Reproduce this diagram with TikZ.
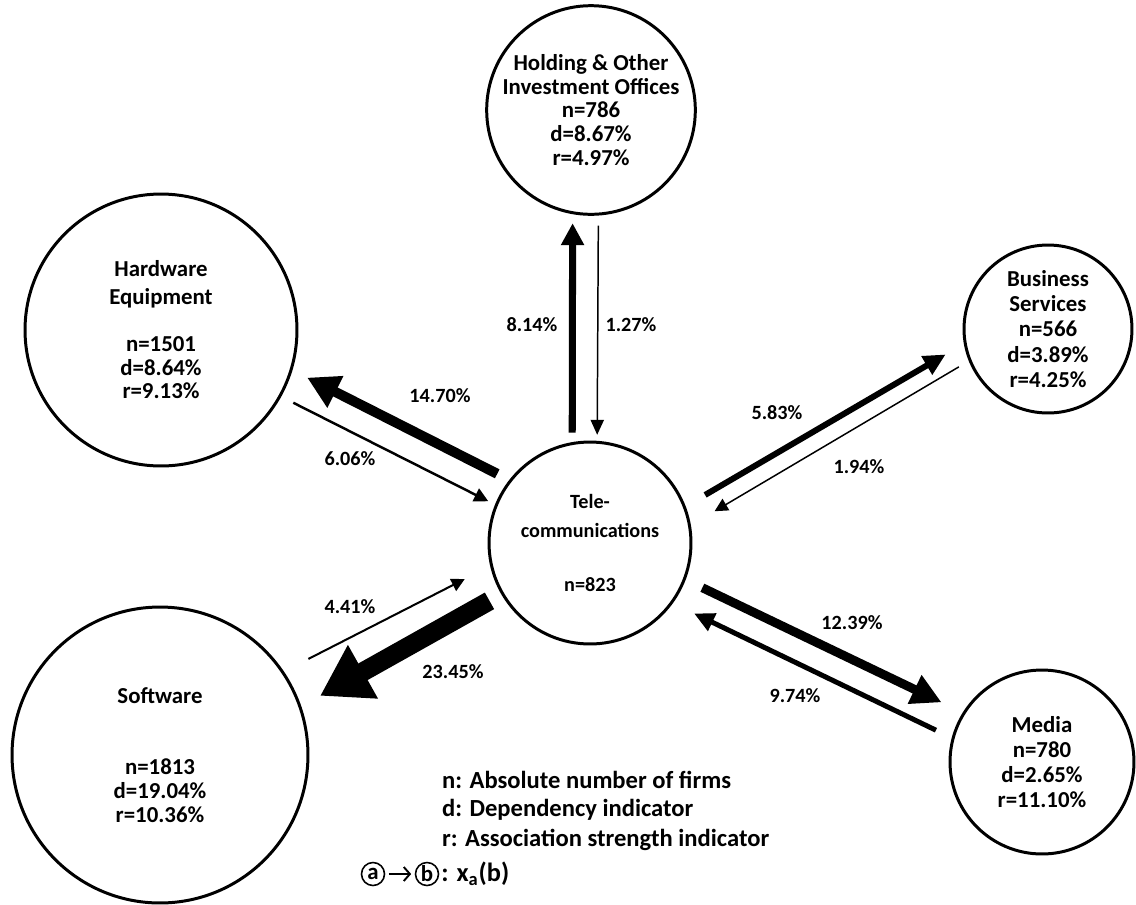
\documentclass[tikz,border=0pt]{standalone}
\usepackage{fontspec}
\setmainfont{Carlito}
\usetikzlibrary{arrows.meta}

\tikzset{
  sector/.style={draw, circle, line width=1.7pt, minimum size=#1, inner sep=0pt,
    align=center, font=\fontsize{13}{13.5}\selectfont\bfseries},
  flow/.style n args={3}{line width=#1, -{Triangle[length=#2, width=#3]}},
  share/.style={font=\fontsize{11.5}{13.5}\selectfont\bfseries},
  keyline/.style={anchor=west, font=\fontsize{14}{16}\selectfont\bfseries},
  keyball/.style={draw, circle, line width=0.9pt, minimum size=0.46cm, inner sep=0pt,
    font=\fontsize{13}{14}\selectfont\bfseries},
}

\begin{document}
\begin{tikzpicture}[x=0.02cm, y=-0.02cm]
\useasboundingbox (0,0) rectangle (1136,904);

% sectors
\node[sector=4.04cm, font=\fontsize{11.5}{13.5}\selectfont\bfseries] (tele) at (590,543)
  {Tele-\\[3pt]communications\\[17pt]n=823};
\node[sector=4.04cm] (hold) at (591,110) {Holding \& Other\\Investment Offices\\n=786\\d=8.67\%\\r=4.97\%};
\node[sector=5.44cm] (hw)   at (161,330) {Hardware\\[2pt]Equipment\\[13.5pt]n=1501\\d=8.64\%\\r=9.13\%};
\node[sector=5.92cm] (sw)   at (160,755) {Software\\[27pt]n=1813\\d=19.04\%\\r=10.36\%};
\node[sector=3.36cm, font=\fontsize{13}{14.3}\selectfont\bfseries] (bus) at (1048,329)
  {Business\\Services\\n=566\\d=3.89\%\\r=4.25\%};
\node[sector=3.68cm, font=\fontsize{13}{14.2}\selectfont\bfseries] (med) at (1042,762)
  {Media\\n=780\\d=2.65\%\\r=11.10\%};

% flows
\draw[flow={5.7pt}{18pt}{19pt}, shorten <=0.27cm, shorten >=0.33cm] (tele.142) -- (hw.-17);
\draw[flow={1.4pt}{8pt}{8pt}, shorten <=0.27cm, shorten >=0.15cm] (hw.-29) -- (tele.158);
\draw[flow={1.15pt}{7.5pt}{7.5pt}, shorten <=0.55cm, shorten >=0.57cm] (sw.34) -- (tele.193);
\draw[flow={10.8pt}{28pt}{33pt}, shorten <=0.27cm, shorten >=0.43cm] (tele.210) -- (sw.19);
\draw[flow={3.4pt}{12.5pt}{11.5pt}, shorten <=0.45cm, shorten >=0.42cm] (tele.21) -- (bus.190);
\draw[flow={0.85pt}{7.5pt}{7.5pt}, shorten <=0.23cm, shorten >=0.55cm] (bus.202) -- (tele.10);
\draw[flow={5.1pt}{17pt}{17pt}, shorten <=0.37cm, shorten >=0.47cm] (tele.-21) -- (med.148);
\draw[flow={2.85pt}{11.5pt}{10.5pt}, shorten <=0.35cm, shorten >=0.47cm] (med.165) -- (tele.-36);
\draw[flow={4pt}{12.5pt}{12.5pt}, shorten <=0.19cm, shorten >=0.18cm] (tele.100) -- (hold.260);
\draw[flow={0.85pt}{8.5pt}{7.5pt}, shorten <=0.2cm, shorten >=0.12cm] (hold.-86) -- (tele.86);

% shares
\node[share] (s-hw-out)   at (440,396) {14.70\%};
\node[share] (s-hw-in)    at (350,459) {6.06\%};
\node[share] (s-sw-in)    at (350,607) {4.41\%};
\node[share] (s-sw-out)   at (453,672) {23.45\%};
\node[share] (s-bus-out)  at (777,413) {5.83\%};
\node[share] (s-bus-in)   at (859,467) {1.94\%};
\node[share] (s-med-out)  at (852,623) {12.39\%};
\node[share] (s-med-in)   at (795,696) {9.74\%};
\node[share] (s-hold-out) at (532,325) {8.14\%};
\node[share] (s-hold-in)  at (631,325) {1.27\%};

% key
\node[keyline] (k-n) at (436,780) {n: Absolute number of firms};
\node[keyline] (k-d) at (436,810) {d: Dependency indicator};
\node[keyline] (k-r) at (436,840) {r: Association strength indicator};
\node[keyball] (k-a) at (373,874) {a};
\node[keyball] (k-b) at (427,874) {b};
\draw[-{Straight Barb[length=3.5pt, width=8pt]}, line width=1.1pt, shorten <=2pt, shorten >=2pt] (k-a) -- (k-b);
\node[keyline, inner sep=1pt, font=\fontsize{15}{17}\selectfont\bfseries] (k-x) at (k-b.east) {: x\textsubscript{a}(b)};
\end{tikzpicture}
\end{document}
